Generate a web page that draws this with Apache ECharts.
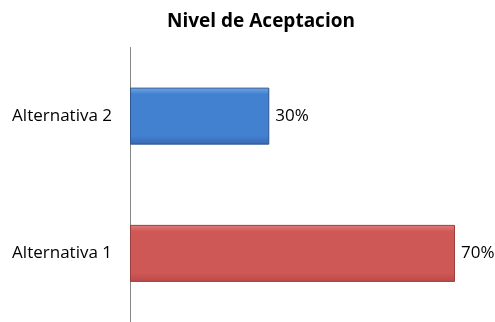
<!DOCTYPE html>
<html><head><meta charset="utf-8">
<script src="https://cdn.jsdelivr.net/npm/echarts@6/dist/echarts.min.js"></script>
<style>html,body{margin:0;padding:0;background:#fff}#c{width:495px;height:322px}</style>
</head><body><div id="c"></div>
<script>
var categories = ['Alternativa 1', 'Alternativa 2'];
var values = [0.7, 0.3];
var titleText = 'Nivel de Aceptacion';

var colors = [
  {top:'#E57C7A', mid:'#CD5856', bottom:'#B84A48', border:'#9C3E3C'},
  {top:'#6FA6E8', mid:'#4280D0', bottom:'#3868B0', border:'#2D5690'}
];
var chart = echarts.init(document.getElementById('c'));
chart.setOption({
  animation:false,
  title:{text:titleText,left:256,top:7,textAlign:'center',
    textStyle:{fontFamily:'Open Sans',fontWeight:'bold',fontSize:19,color:'#000'}},
  grid:{left:130,top:47.5,width:325,height:280,containLabel:false},
  xAxis:{type:'value',min:0,max:0.7,show:false},
  yAxis:{type:'category',data:categories,
    axisLine:{lineStyle:{color:'#868686',width:1}},
    axisTick:{show:false},
    axisLabel:{margin:18,fontFamily:'Open Sans',fontSize:17,color:'#000'}},
  series:[{type:'bar',barWidth:57,
    data:values.map(function(v,i){
      var c=colors[i];
      return {value:v,itemStyle:{
        color:new echarts.graphic.LinearGradient(0,0,0,1,[
          {offset:0,color:c.top},{offset:0.12,color:c.mid},{offset:0.85,color:c.mid},{offset:1,color:c.bottom}]),
        borderColor:c.border,borderWidth:1}};
    }),
    label:{show:true,position:'right',distance:6,fontFamily:'Open Sans',fontSize:17,color:'#000',
      formatter:function(p){return Math.round(p.value*100)+'%';}}
  }]
});
</script></body></html>
